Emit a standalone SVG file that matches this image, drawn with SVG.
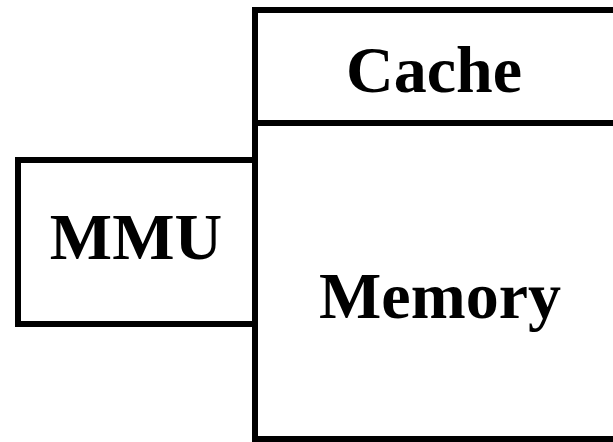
<svg xmlns="http://www.w3.org/2000/svg" width="613" height="442" viewBox="0 0 613 442">
  <style>
    .box { fill: #fff; stroke: #000; stroke-width: 6; }
    .label { font-family: "Liberation Serif", "Times New Roman", serif; font-weight: bold; font-size: 66px; fill: #000; text-anchor: middle; }
  </style>
  <rect width="613" height="442" fill="#fff"/>
  <g id="mmu">
    <rect class="box" x="18" y="160" width="237" height="164"/>
    <text class="label" x="136" y="259">MMU</text>
  </g>
  <g id="cache">
    <rect class="box" x="255" y="10" width="400" height="113"/>
    <text class="label" x="434" y="92">Cache</text>
  </g>
  <g id="memory">
    <rect class="box" x="255" y="123" width="400" height="316"/>
    <text class="label" x="440" y="318">Memory</text>
  </g>
  <g id="connectors"></g>
</svg>
